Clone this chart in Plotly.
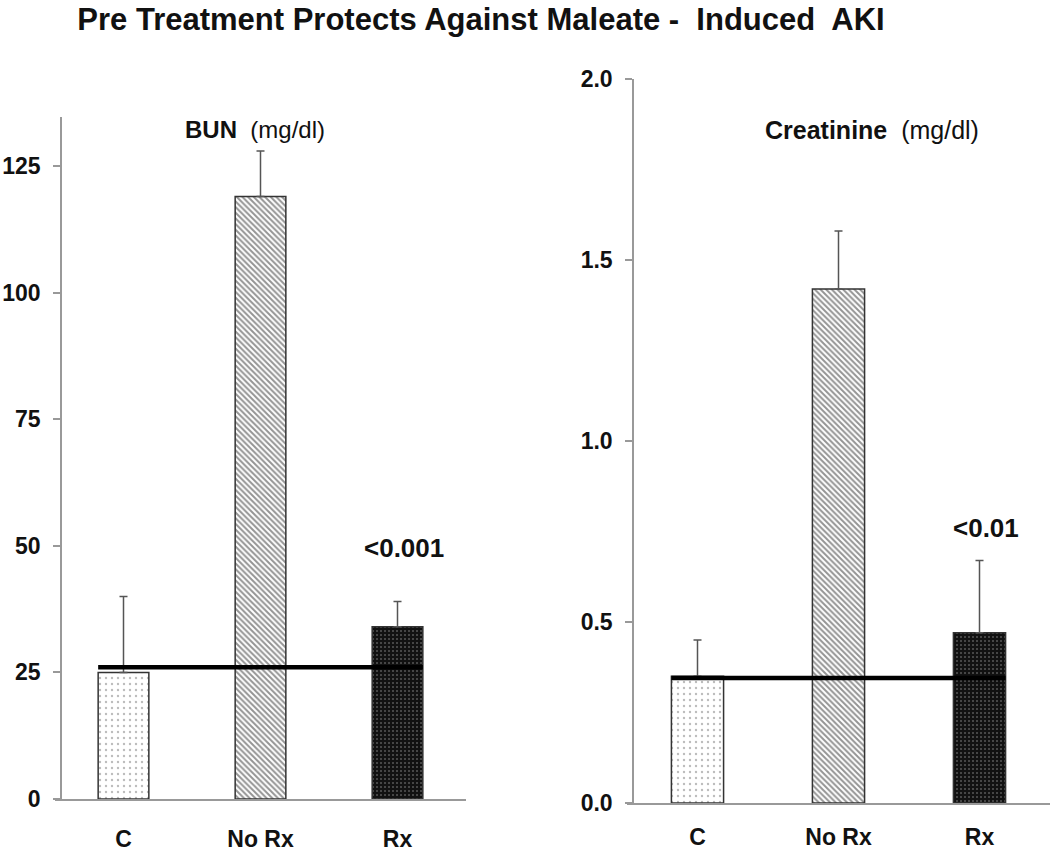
import plotly.graph_objects as go
from plotly.subplots import make_subplots

# Values
groups = ["C", "No Rx", "Rx"]
bun_mean = [25, 119, 34]
bun_err = [15, 9, 5]
creat_mean = [0.35, 1.42, 0.47]
creat_err = [0.10, 0.16, 0.20]
control_ref = [26, 0.345]     # thick horizontal reference line (control level)
p_labels = ["<0.001", "<0.01"]
p_label_y = [49.6, 0.76]

FONT = "Liberation Sans, Arial, sans-serif"
BAR_W = 0.37

# one fill per group: dotted, hatched, dark dotted
patterns = [
    dict(shape=".", fgcolor="#777777", bgcolor="white", size=6, solidity=0.12),
    dict(shape="\\", fgcolor="#2a2a2a", bgcolor="white", size=4, solidity=0.5),
    dict(shape=".", fgcolor="#9a9a9a", bgcolor="#111111", size=4, solidity=0.2),
]


def add_panel(fig, col, means, errs):
    for g, m, e, pat in zip(groups, means, errs, patterns):
        fig.add_trace(
            go.Bar(
                x=[g], y=[m], width=BAR_W,
                marker=dict(color=pat["bgcolor"], pattern=pat,
                            line=dict(color="#333333", width=1.5)),
                error_y=dict(type="data", array=[e], arrayminus=[0],
                             symmetric=False, color="#555555",
                             thickness=1.5, width=4),
                showlegend=False, hoverinfo="skip",
            ),
            row=1, col=col,
        )


fig = make_subplots(rows=1, cols=2)
add_panel(fig, 1, bun_mean, bun_err)
add_panel(fig, 2, creat_mean, creat_err)

# control reference lines, spanning from the C bar to the Rx bar
for i, (xr, yr) in enumerate([("x", "y"), ("x2", "y2")]):
    fig.add_shape(type="line", xref=xr, yref=yr,
                  x0=-BAR_W / 2, x1=len(groups) - 1 + BAR_W / 2,
                  y0=control_ref[i], y1=control_ref[i],
                  line=dict(color="black", width=4.5))
    fig.add_annotation(x=groups[-1], y=p_label_y[i], xref=xr, yref=yr,
                       text="<b>%s</b>" % p_labels[i].replace("<", "&lt;"),
                       showarrow=False, xshift=6,
                       font=dict(size=26, color="#111111"))

# panel captions
fig.add_annotation(x=0.243, y=1 - 130 / 854, xref="paper", yref="paper",
                   xanchor="center", yanchor="middle",
                   text="<b>BUN</b>  (mg/dl)", showarrow=False,
                   font=dict(size=24, color="#111111"))
fig.add_annotation(x=0.830, y=1 - 130 / 854, xref="paper", yref="paper",
                   xanchor="center", yanchor="middle",
                   text="<b>Creatinine</b>  (mg/dl)", showarrow=False,
                   font=dict(size=25, color="#111111"))

axis_common = dict(showline=True, linecolor="#999999", linewidth=1.5,
                   showgrid=False, zeroline=False, automargin=False)
fig.update_xaxes(**axis_common, ticks="", tickfont=dict(size=23, color="#111111"),
                 tickprefix="<b>", ticksuffix="</b>")
fig.update_yaxes(**axis_common, ticks="outside", ticklen=7, tickwidth=1.5,
                 tickcolor="#999999", tickfont=dict(size=23, color="#111111"),
                 ticklabelstandoff=8)

fig.update_layout(
    # x-axis lines start a few px left of the y-axis, as in the original
    xaxis=dict(domain=[55 / 1050, 466 / 1050], ticklabelstandoff=19),
    xaxis2=dict(domain=[627 / 1050, 1.0], ticklabelstandoff=13),
    yaxis=dict(domain=[55 / 854, 737 / 854], range=[0, 134.7],
               anchor="free", position=61 / 1050,
               tickvals=[0, 25, 50, 75, 100, 125],
               ticktext=["<b>%d</b>" % v for v in [0, 25, 50, 75, 100, 125]]),
    yaxis2=dict(domain=[51 / 854, 775 / 854], range=[0, 2.0],
                anchor="free", position=633 / 1050,
                tickvals=[0, 0.5, 1.0, 1.5, 2.0],
                ticktext=["<b>%.1f</b>" % v for v in [0, 0.5, 1.0, 1.5, 2.0]]),
    title=dict(text="<b>Pre Treatment Protects Against Maleate -  Induced  AKI</b>",
               x=481 / 1050, xanchor="center", y=1 - 19 / 854, yanchor="middle",
               font=dict(size=31, color="#111111")),
    font=dict(family=FONT, color="#111111"),
    bargap=0.6,
    width=1050, height=854,
    margin=dict(l=0, r=0, t=0, b=0),
    plot_bgcolor="white", paper_bgcolor="white",
)

# drop the browser's default body margin so the 1050x854 figure fills the page
fig.write_html("out.html", config={"displayModeBar": False},
               post_script="document.body.style.margin='0';")
